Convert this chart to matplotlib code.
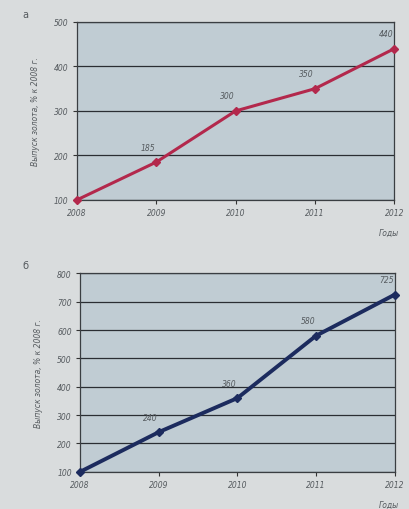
import matplotlib.pyplot as plt

# data
years = [2008, 2009, 2010, 2011, 2012]
gold_a = [100, 185, 300, 350, 440]
gold_b = [100, 240, 360, 580, 725]
ticks_a = [100, 200, 300, 400, 500]
ticks_b = [100, 200, 300, 400, 500, 600, 700, 800]

ylabel = 'Выпуск золота, % к 2008 г.'
xlabel = 'Годы'

bg = '#d9dcdd'
panel = '#c0ccd3'
txt = '#555a5e'

fig = plt.figure(figsize=(4.09, 5.10), dpi=100, facecolor=bg)

def draw(rect, vals, yt, color, lw, letter, label_y):
    ax = fig.add_axes(rect)
    ax.set_facecolor(panel)
    ax.plot(years, vals, color=color, lw=lw, marker='D', ms=4.5, zorder=3, clip_on=False)
    ax.set_xlim(years[0], years[-1])
    ax.set_ylim(yt[0], yt[-1])
    ax.set_yticks(yt)
    ax.set_xticks(years)
    ax.set_yticklabels([str(t) for t in yt], fontsize=5.5, style='italic', color=txt)
    ax.set_xticklabels([str(y) for y in years], fontsize=5.5, style='italic', color=txt)
    ax.tick_params(axis='both', length=3, color='#333333', pad=3)
    ax.grid(axis='y', color='#2a2e33', lw=0.9)
    for s in ax.spines.values():
        s.set_color('#3a3e42')
        s.set_linewidth(0.9)
    for x, v in zip(years[1:], vals[1:]):
        ax.annotate(str(v), (x, v), xytext=(-6, 9), textcoords='offset points',
                    ha='center', fontsize=5.5, style='italic', color=txt)
    ax.set_ylabel(ylabel, fontsize=5.5, style='italic', color=txt, labelpad=10)
    fig.text(0.975, label_y, xlabel, fontsize=5.5, style='italic', color=txt, ha='right')
    fig.text(0.055, rect[1] + rect[3] + 0.01, letter, fontsize=7, color=txt)
    return ax

draw([0.188, 0.606, 0.776, 0.349], gold_a, ticks_a, '#b3284c', 2.2, 'а', 0.537)
draw([0.196, 0.073, 0.769, 0.389], gold_b, ticks_b, '#1c2b5e', 2.8, 'б', 0.004)

fig.savefig('out.png', dpi=100, facecolor=bg)
